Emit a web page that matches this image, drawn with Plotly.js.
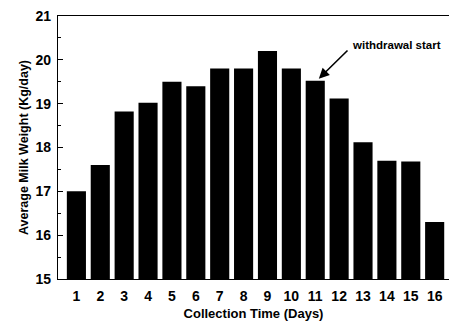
<!DOCTYPE html>
<html>
<head>
<meta charset="utf-8">
<script src="https://cdn.plot.ly/plotly-3.0.1.min.js"></script>
<style>html,body{margin:0;padding:0;background:#fff;}#chart{width:452px;height:321px;}</style>
</head>
<body>
<div id="chart"></div>
<script>
const days = [1,2,3,4,5,6,7,8,9,10,11,12,13,14,15,16];
const milkWeight = [17.0,17.6,18.82,19.02,19.5,19.4,19.8,19.8,20.2,19.8,19.52,19.12,18.12,17.7,17.68,16.3];
const tickLabels = days.map(String);
const annotationText = "withdrawal start";
const annotationDay = 11;

const font = "Liberation Sans, Arial, sans-serif";

const trace = {
  type: 'bar',
  x: days,
  y: milkWeight,
  marker: {color: '#000', line: {width: 0}},
  width: 0.8,
  hoverinfo: 'none'
};

const layout = {
  width: 452, height: 321,
  margin: {l: 58, r: 3, t: 16, b: 42},
  paper_bgcolor: '#fff', plot_bgcolor: '#fff',
  showlegend: false,
  font: {family: font, color: '#000'},
  xaxis: {
    range: [0.23, 16.6],
    tickvals: days, ticktext: tickLabels,
    ticks: '', showgrid: false, zeroline: false,
    showline: true, linecolor: '#000', linewidth: 1.2, mirror: true,
    tickfont: {family: font, size: 14, weight: 'bold'},
    ticklabelstandoff: 4,
    title: {text: 'Collection Time (Days)', font: {family: font, size: 13, weight: 'bold'}, standoff: 7},
    automargin: false, fixedrange: true
  },
  yaxis: {
    range: [15, 21],
    tickvals: [15,16,17,18,19,20,21],
    ticks: 'inside', ticklen: 5, tickwidth: 1, tickcolor: '#000',
    minor: {tickvals: [15.5,16.5,17.5,18.5,19.5,20.5], ticks: 'inside', ticklen: 3, tickwidth: 1, tickcolor: '#000', showgrid: false},
    showgrid: false, zeroline: false,
    showline: true, linecolor: '#000', linewidth: 1.2,
    tickfont: {family: font, size: 14, weight: 'bold'},
    ticklabelstandoff: 3,
    title: {text: 'Average Milk Weight (Kg/day)', font: {family: font, size: 12.5, weight: 'bold'}, standoff: 4},
    automargin: false, fixedrange: true
  },
  annotations: [{
    x: annotationDay + 0.15, y: milkWeight[annotationDay - 1] + 0.05,
    xref: 'x', yref: 'y',
    ax: 349, ay: 49, axref: 'pixel', ayref: 'pixel',
    text: '', showarrow: true, arrowhead: 2, arrowsize: 1.3, arrowwidth: 1.6, arrowcolor: '#000'
  }, {
    x: 12.45, y: 20.34, xref: 'x', yref: 'y',
    xanchor: 'left', yanchor: 'middle',
    text: annotationText, showarrow: false,
    font: {family: font, size: 11.5, weight: 'bold', color: '#000'}
  }]
};

// Convert absolute pixel tail to offsets relative to head
const xa = layout.xaxis, ya = layout.yaxis;
const pw = 452 - layout.margin.l - layout.margin.r;
const ph = 321 - layout.margin.t - layout.margin.b;
const a = layout.annotations[0];
const hx = layout.margin.l + (a.x - xa.range[0]) / (xa.range[1] - xa.range[0]) * pw;
const hy = layout.margin.t + (ya.range[1] - a.y) / (ya.range[1] - ya.range[0]) * ph;
a.ax = a.ax - hx; a.ay = a.ay - hy; delete a.axref; delete a.ayref;

Plotly.newPlot('chart', [trace], layout, {staticPlot: true, displayModeBar: false});
</script>
</body>
</html>
